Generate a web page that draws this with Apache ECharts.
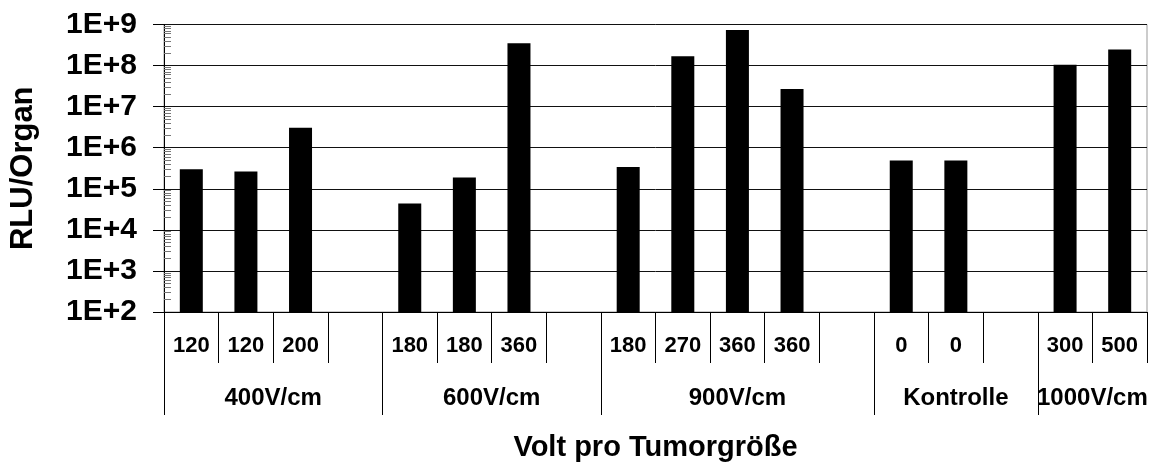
<!DOCTYPE html>
<html>
<head>
<meta charset="utf-8">
<script src="https://cdn.jsdelivr.net/npm/echarts@6/dist/echarts.min.js"></script>
<style>html,body{margin:0;padding:0;background:#fff}#c{width:1149px;height:463px}</style>
</head>
<body>
<div id="c"></div>
<script>
var categories = ['120','120','200','','180','180','360','','180','270','360','360','','0','0','','300','500'];
var rluValues = [3.0e5, 2.65e5, 3.05e6, null, 4.4e4, 1.88e5, 3.5e8, null, 3.4e5, 1.68e8, 7.3e8, 2.7e7, null, 4.9e5, 4.9e5, null, 1.04e8, 2.45e8];
var groupNames = ['400V/cm','600V/cm','900V/cm','Kontrolle','1000V/cm'];
var groupBounds = [0, 4, 8, 13, 16, 18];

var FONT = "'Liberation Sans', Arial, sans-serif";
var groupCenters = [];
for (var i = 0; i < groupNames.length; i++) groupCenters.push((groupBounds[i] + groupBounds[i+1]) / 2);
var groupTicks = groupBounds.slice(0, -1);
var minorTicks = [];
for (var n = 2; n < 9; n++) for (var k = 2; k <= 9; k++) minorTicks.push(n + Math.log10(k));

var chart = echarts.init(document.getElementById('c'), null, {renderer: 'canvas'});
chart.setOption({
  animation: false,
  backgroundColor: '#fff',
  grid: {left: 164, right: 2, top: 24.5, bottom: 151, containLabel: false, outerBoundsMode: 'none',
    show: true, borderColor: '#999', borderWidth: 1, backgroundColor: '#fff'},
  xAxis: [{
    type: 'category',
    data: categories,
    position: 'bottom',
    axisLine: {show: true, lineStyle: {color: '#000', width: 1}},
    axisTick: {show: true, interval: 0, length: 51, lineStyle: {color: '#000', width: 1}},
    axisLabel: {interval: 0, fontSize: 22, fontWeight: 'bold', color: '#000', fontFamily: FONT, margin: 23},
    splitLine: {show: false}
  }, {
    type: 'value',
    min: 0, max: 18,
    position: 'bottom',
    axisLine: {show: false},
    splitLine: {show: false},
    axisTick: {show: true, length: 103, customValues: groupTicks, lineStyle: {color: '#000', width: 1}},
    axisLabel: {show: true, customValues: groupCenters, fontSize: 24, fontWeight: 'bold', color: '#000', fontFamily: FONT, margin: 74,
      formatter: function (v) { var idx = groupCenters.indexOf(v); return idx >= 0 ? groupNames[idx] : ''; }},
    name: 'Volt pro Tumorgröße',
    nameLocation: 'middle',
    nameGap: 121,
    nameTextStyle: {fontSize: 29, fontWeight: 'bold', color: '#000', fontFamily: FONT}
  }],
  yAxis: [{
    type: 'log',
    logBase: 10,
    min: 100,
    max: 1e9,
    position: 'left',
    axisLine: {show: true, lineStyle: {color: '#000', width: 1}},
    axisTick: {show: true, inside: false, length: 11, lineStyle: {color: '#000'}},
    axisLabel: {fontSize: 30, fontWeight: 'bold', color: '#000', fontFamily: FONT, margin: 27,
      formatter: function (v) { return '1E+' + Math.round(Math.log10(v)); }},
    splitLine: {show: true, lineStyle: {color: '#111', width: 1}},
    name: 'RLU/Organ',
    nameLocation: 'middle',
    nameGap: 125,
    nameTextStyle: {fontSize: 31, fontWeight: 'bold', color: '#000', fontFamily: FONT}
  }, {
    type: 'value',
    min: 2, max: 9,
    position: 'left',
    axisLine: {show: false},
    axisLabel: {show: false},
    splitLine: {show: false},
    axisTick: {show: true, inside: true, length: 7, customValues: minorTicks, lineStyle: {color: '#777', width: 1}}
  }],
  series: [{
    type: 'bar',
    xAxisIndex: 0,
    yAxisIndex: 0,
    data: rluValues,
    barWidth: 23,
    itemStyle: {color: '#000'}
  }]
});
</script>
</body>
</html>
